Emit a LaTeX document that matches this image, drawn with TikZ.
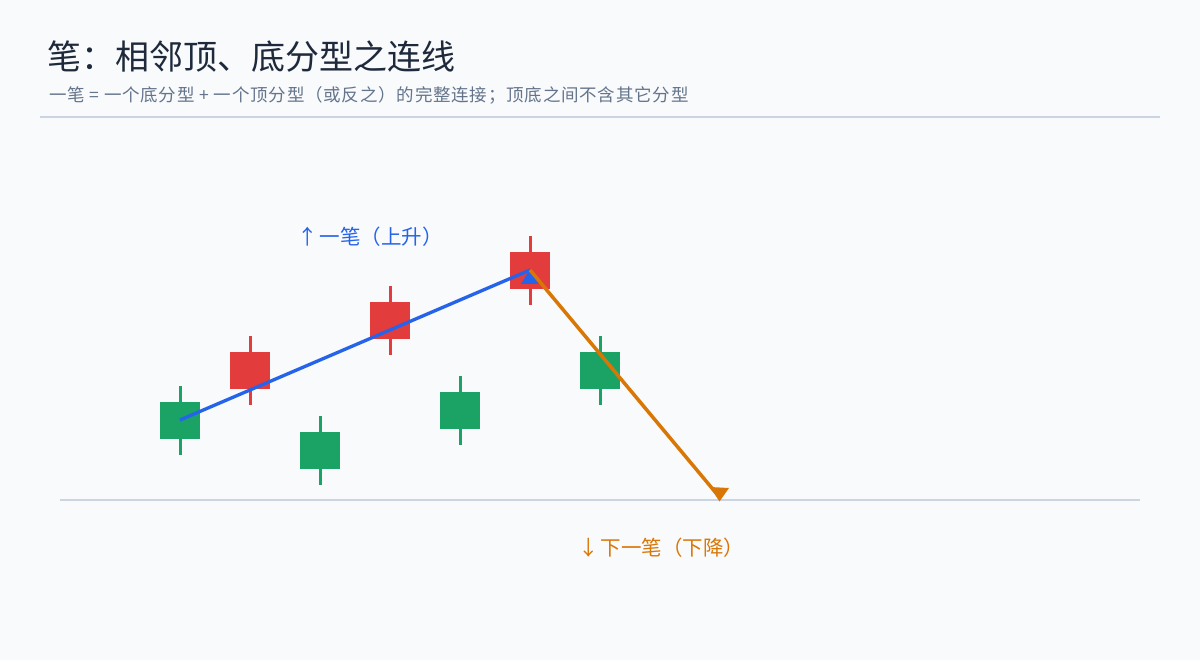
\documentclass[tikz,border=0pt]{standalone}
\usepackage{fontspec}
\setmainfont{Noto Sans CJK SC}
\newfontfamily\cjk{Noto Sans CJK SC}
\newfontfamily\cjkspaced[LetterSpace=4.5]{Noto Sans CJK SC}
\definecolor{bgc}{HTML}{F8FAFC}
\definecolor{titlec}{HTML}{1E293B}
\definecolor{subc}{HTML}{64748B}
\definecolor{rulec}{HTML}{CBD5E1}
\definecolor{upc}{HTML}{E23C3C}
\definecolor{downc}{HTML}{1AA364}
\definecolor{bluec}{HTML}{2563EB}
\definecolor{orangec}{HTML}{D97706}
\tikzset{
  txt/.style={inner sep=0pt, anchor=base west},
  rulel/.style={draw=rulec, line width=1.6pt},
  redbody/.style={fill=upc, draw=none},
  greenbody/.style={fill=downc, draw=none},
  redwick/.style={draw=upc, line width=3pt},
  greenwick/.style={draw=downc, line width=3pt},
  upbi/.style={draw=bluec, line width=3.3pt},
  downbi/.style={draw=orangec, line width=3.5pt},
}
\begin{document}
\begin{tikzpicture}[x=1pt,y=-1pt]
\fill[bgc] (0,0) rectangle (1200,660);
\useasboundingbox (0,0) rectangle (1200,660);
% header
\node[txt, text=titlec, font=\fontsize{34}{40}\selectfont] (title) at (47,70) {笔：相邻顶、底分型之连线};
\node[txt, text=subc, font=\cjkspaced\fontsize{17.5}{20}\selectfont] (sub) at (49,102) {一笔 = 一个底分型 + 一个顶分型（或反之）的完整连接；顶底之间不含其它分型};
\coordinate (hl) at (40,117); \coordinate (hr) at (1160,117);
\draw[rulel] (hl) -- (hr);
% baseline
\coordinate (bl) at (60,500); \coordinate (br) at (1140,500);
\draw[rulel] (bl) -- (br);
% candles: x center, wick top, body top, body bottom, wick bottom
\foreach \n/\x/\wt/\bt/\bb/\wb/\c in {
  c1/180/386/402/439/455/green,
  c2/250/336/352/389/405/red,
  c3/320/416/432/469/485/green,
  c4/390/286/302/339/355/red,
  c5/460/376/392/429/445/green,
  c6/530/236/252/289/305/red,
  c7/600/336/352/389/405/green}{
  \draw[\c wick] (\x,\wt) -- (\x,\wb);
  \path[\c body] (\x-20,\bt) rectangle (\x+20,\bb);
  \coordinate (\n) at (\x,{(\bt+\bb)/2});
}
% bi lines
\coordinate (p0) at (180,420);
\coordinate (p1) at (530,270);
\coordinate (p2e) at (716,493);
% arrowhead vertices
\coordinate (ua) at (530,269); \coordinate (ub) at (521,284); \coordinate (uc) at (539,284);
\coordinate (da) at (710,487); \coordinate (db) at (729,488); \coordinate (dc) at (719.5,501.5);
\draw[upbi] (p0) -- (p1);
\fill[bluec] (ua) -- (ub) -- (uc) -- cycle;
\draw[downbi] (p1) -- (p2e);
\fill[orangec] (da) -- (db) -- (dc) -- cycle;
% labels
\node[txt, text=bluec, font=\fontsize{20.5}{24}\selectfont] (uplab) at (297,245) {↑\hspace{2pt}一笔（上升）};
\node[txt, text=orangec, font=\fontsize{20.5}{24}\selectfont] (downlab) at (578,555) {↓\hspace{2pt}下一笔（下降）};
\end{tikzpicture}
\end{document}
